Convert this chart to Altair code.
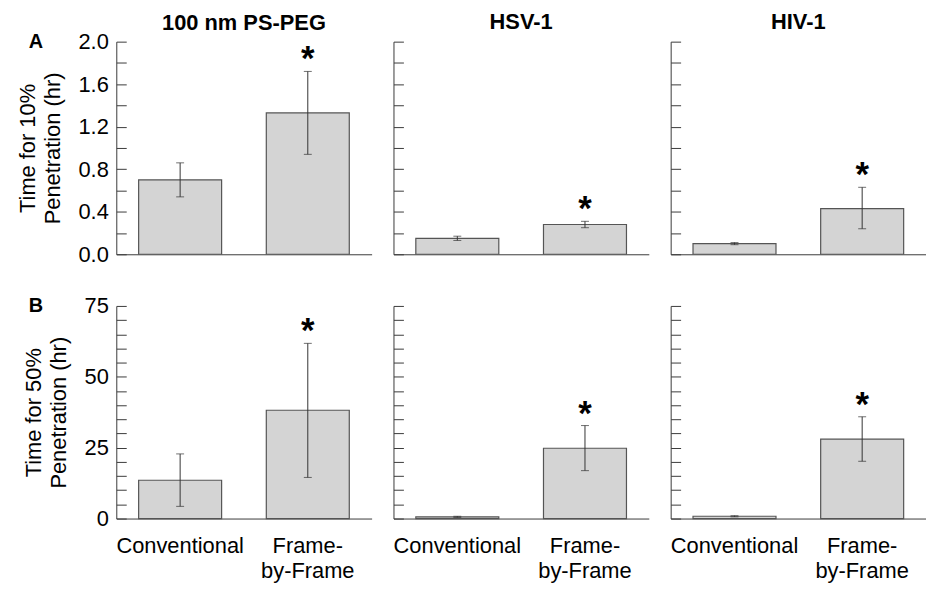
import altair as alt
import pandas as pd

groups = ["100 nm PS-PEG", "HSV-1", "HIV-1"]
methods = ["Conventional", "Frame-by-Frame"]
letters = ["A", "B"]

# Time for 10% penetration (hr): [Conventional, Frame-by-Frame] per group
t10_mean = [[0.70, 1.33], [0.15, 0.28], [0.10, 0.43]]
t10_lo = [[0.54, 0.94], [0.13, 0.25], [0.09, 0.24]]
t10_hi = [[0.86, 1.72], [0.17, 0.31], [0.11, 0.63]]

# Time for 50% penetration (hr)
t50_mean = [[13.5, 38.2], [0.6, 24.8], [0.8, 28.0]]
t50_lo = [[4.3, 14.5], [0.4, 16.9], [0.6, 20.2]]
t50_hi = [[22.8, 61.8], [0.8, 32.8], [1.0, 35.9]]

significant = [False, True]

row_titles = [["Time for 10%", "Penetration (hr)"], ["Time for 50%", "Penetration (hr)"]]
row_domains = [[0, 2.0], [0, 75]]
row_major = [[0, 0.4, 0.8, 1.2, 1.6, 2.0], [0, 25, 50, 75]]
row_minor = [[0, 0.2, 0.4, 0.6, 0.8, 1.0, 1.2, 1.4, 1.6, 1.8, 2.0],
             [0, 5, 10, 15, 20, 25, 30, 35, 40, 45, 50, 55, 60, 65, 70, 75]]
row_format = [".1f", "d"]

W = 257
H = 214
FONT = "Liberation Sans"
AX = "#3a3a3a"


def panel(r, g):
    means = [t10_mean, t50_mean][r][g]
    los = [t10_lo, t50_lo][r][g]
    his = [t10_hi, t50_hi][r][g]
    df = pd.DataFrame({"method": methods, "mean": means, "lo": los, "hi": his, "sig": significant})
    base = alt.Chart(df)
    x = alt.X(
        "method:N", sort=methods,
        scale=alt.Scale(paddingInner=0.35, paddingOuter=0.175),
        axis=alt.Axis(
            title=None, labels=(r == 1), ticks=False, domain=True, domainColor=AX,
            labelAngle=0, labelFontSize=22, labelColor="black", labelPadding=17,
            labelLineHeight=25,
            labelExpr="datum.value == 'Frame-by-Frame' ? ['Frame-', 'by-Frame'] : datum.label",
        ),
    )
    yscale = alt.Scale(domain=row_domains[r], nice=False, zero=True)
    left_axis = alt.Axis(
        orient="left", values=row_major[r], format=row_format[r], labels=(g == 0),
        ticks=False, domain=True, domainColor=AX, grid=False,
        labelFontSize=22, labelColor="black", labelPadding=8,
        title=row_titles[r] if g == 0 else None,
        titleFontSize=22, titleFontWeight="normal", titleColor="black",
        titlePadding=14, titleLineHeight=25,
    )
    tick_axis = alt.Axis(
        orient="right", offset=-W, values=row_minor[r], labels=False, domain=False,
        ticks=True, tickSize=10, tickColor=AX, grid=False, title=None,
    )
    bars = base.mark_bar(fill="#d4d4d4", stroke="#555555", strokeWidth=1.2).encode(
        x=x, y=alt.Y("mean:Q", scale=yscale, axis=left_axis)
    )
    rules = base.mark_rule(color="#333333", strokeWidth=1).encode(
        x=x, y=alt.Y("lo:Q", scale=yscale, axis=tick_axis), y2="hi:Q"
    )
    cap_lo = base.mark_tick(orient="horizontal", size=8, thickness=1, color="#333333").encode(
        x=x, y=alt.Y("lo:Q", scale=yscale, axis=None)
    )
    cap_hi = base.mark_tick(orient="horizontal", size=8, thickness=1, color="#333333").encode(
        x=x, y=alt.Y("hi:Q", scale=yscale, axis=None)
    )
    stars = base.transform_filter("datum.sig").mark_text(
        text="*", fontSize=35, fontWeight="bold", baseline="alphabetic", dy=-1, color="black"
    ).encode(x=x, y=alt.Y("hi:Q", scale=yscale, axis=None))
    layers = [bars, rules, cap_lo, cap_hi, stars]
    if g == 0:
        letter = alt.Chart(pd.DataFrame({"letter": [letters[r]]})).mark_text(
            fontSize=20, fontWeight="bold", color="black", align="center", baseline="middle"
        ).encode(text="letter:N", x=alt.value(-81), y=alt.value(0))
        layers.append(letter)
    ch = alt.layer(*layers).resolve_axis(y="independent").properties(width=W, height=H)
    if r == 0:
        ch = ch.properties(title=alt.TitleParams(
            text=groups[g], fontSize=22, fontWeight="bold", color="black", anchor="middle",
            offset=(-4 if g == 0 else 7)
        ))
    return ch


panels = [panel(r, g) for r in range(2) for g in range(3)]

chart = alt.concat(*panels, columns=3, spacing={"row": 30, "column": 21}).properties(
    padding={"left": 8, "top": 1, "right": 0, "bottom": 0}
).configure(font=FONT).configure_view(stroke=None).configure_axis(
    titleFontSize=22, labelFontSize=22
)

chart.save("out.html", embed_options={"renderer": "svg", "actions": False})
